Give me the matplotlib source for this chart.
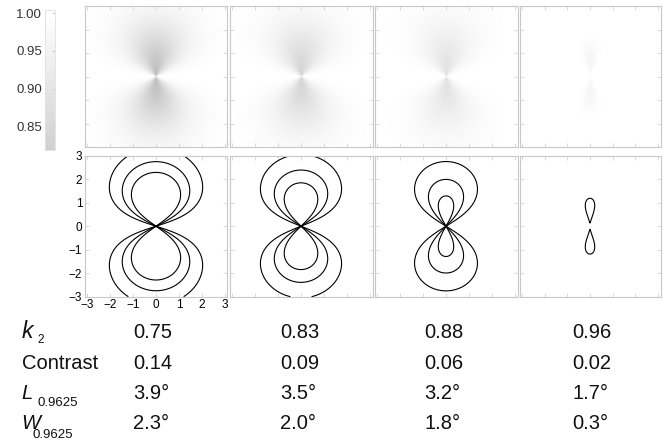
import numpy as np
import matplotlib
matplotlib.use('Agg')
import matplotlib.pyplot as plt

plt.rcParams['font.family'] = ['Liberation Sans', 'DejaVu Sans']

# table values, one entry per panel
k2_values = [0.75, 0.83, 0.88, 0.96]
contrast = [0.14, 0.09, 0.06, 0.02]
length_deg = [3.9, 3.5, 3.2, 1.7]
width_deg = [2.3, 2.0, 1.8, 0.3]

# shape of the dark lobes for each k2
lobe_power = [2.0, 2.0, 2.5, 16.7]
lobe_offset = [0.0, 0.0, 0.0, 0.66]
lobe_spread = [1.52, 1.52, 1.52, 0.49]

contour_levels = [0.921, 0.952, 0.978]
axis_ticks = [-3, -2, -1, 0, 1, 2, 3]
cbar_ticks = [0.85, 0.90, 0.95, 1.00]
cbar_range = (0.819, 1.004)

W, H = 672, 443
fig = plt.figure(figsize=(W / 100, H / 100), dpi=100)


def px_axes(left, top, width, height):
    return fig.add_axes([left / W, 1 - (top + height) / H, width / W, height / H])


# luminance field on a grid that contains the origin
x = np.linspace(-3.1, 3.1, 621)
y = np.linspace(-3.0, 3.0, 601)
X, Y = np.meshgrid(x, y)
r = np.hypot(X, Y)
cos_phi = np.divide(np.abs(Y), r, out=np.zeros_like(r), where=r > 0)


def field(c, m, r1, s):
    # Michelson contrast c -> minimum luminance (1 - c) / (1 + c)
    depth = 2 * c / (1 + c)
    return 1 - depth * cos_phi ** m * np.exp(-(r - r1) ** 2 / (2 * s ** 2))


frame_col = '#c8c8c8'
lefts = [85, 229.5, 374.5, 519.5]
widths = [142, 143, 143, 141]


def style_frame(ax):
    for sp in ax.spines.values():
        sp.set_color(frame_col)
        sp.set_linewidth(0.8)
    ax.set_xticks(axis_ticks)
    ax.set_yticks(axis_ticks)
    ax.tick_params(direction='in', length=3, width=0.6, color='#d4d4d4',
                   top=True, right=True, labelleft=False, labelbottom=False)


for i in range(4):
    f = field(contrast[i], lobe_power[i], lobe_offset[i], lobe_spread[i])

    # density image
    ax = px_axes(lefts[i], 6, widths[i], 141)
    ax.imshow(f, cmap='gray', vmin=0, vmax=1, origin='lower',
              extent=(-3.1, 3.1, -3, 3), aspect='auto', interpolation='bilinear')
    ax.set_xlim(-3.1, 3.1)
    ax.set_ylim(-3, 3)
    style_frame(ax)

    # contour plot
    ax = px_axes(lefts[i], 155.7, widths[i], 141)
    ax.contour(X, Y, f, levels=contour_levels, colors='k', linewidths=0.8)
    ax.set_xlim(-3.1, 3.1)
    ax.set_ylim(-3, 3)
    style_frame(ax)
    if i == 0:
        ax.tick_params(labelleft=True, labelbottom=True, labelsize=8.5, pad=2)

# colour bar
cax = px_axes(45, 10, 10, 140)
grad = np.linspace(cbar_range[0], cbar_range[1], 256)[:, None]
cax.imshow(grad, cmap='gray', vmin=0, vmax=1, origin='lower',
           extent=(0, 1, cbar_range[0], cbar_range[1]), aspect='auto')
cax.set_ylim(*cbar_range)
cax.set_xticks([])
cax.set_yticks(cbar_ticks)
cax.set_yticklabels([f'{v:.2f}' for v in cbar_ticks])
cax.tick_params(axis='y', left=False, right=True, labelleft=True, labelright=False,
                direction='in', length=2, color='#d0d0d0', labelsize=9.5,
                labelcolor='#333333', pad=2)
for sp in cax.spines.values():
    sp.set_color('#e0e0e0')
    sp.set_linewidth(0.6)


def put(xp, yp, s, **kw):
    fig.text(xp / W, 1 - yp / H, s, va='baseline', ha='left', color='#111111', **kw)


# table below the panels
put(21.7, 338.3, 'k', fontsize=16.5, style='italic')
put(37, 343, '2', fontsize=8.5)
put(21.7, 369.3, 'Contrast', fontsize=14.5)
put(21.7, 399, 'L', fontsize=14.5, style='italic')
put(38, 406, '0.9625', fontsize=9.5)
put(21.7, 429.3, 'W', fontsize=14.5, style='italic')
put(32.7, 438.3, '0.9625', fontsize=9.5)

cols = [133, 280, 424.5, 572]
for i in range(4):
    put(cols[i], 338.3, f'{k2_values[i]:.2f}', fontsize=14.5)
    put(cols[i], 369.3, f'{contrast[i]:.2f}', fontsize=14.5)
    put(cols[i], 399, f'{length_deg[i]:.1f}°', fontsize=14.5)
    put(cols[i], 429.3, f'{width_deg[i]:.1f}°', fontsize=14.5)

fig.savefig('out.png', dpi=100)
